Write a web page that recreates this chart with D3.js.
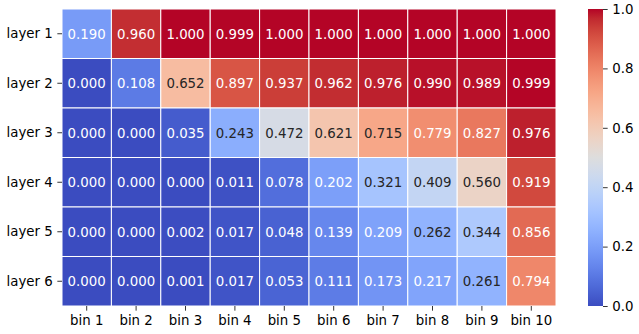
<!DOCTYPE html>
<meta charset="utf-8">
<script src="https://d3js.org/d3.v7.min.js"></script>
<style>
  body { margin: 0; background: #fff; }
  text { font-family: "DejaVu Sans", sans-serif; }
</style>
<div id="heatmap"></div>
<script>

// row and column labels
var layers = ["layer 1", "layer 2", "layer 3", "layer 4", "layer 5", "layer 6"];
var bins = ["bin 1", "bin 2", "bin 3", "bin 4", "bin 5", "bin 6", "bin 7", "bin 8", "bin 9", "bin 10"];

// values per layer
var layer1 = [0.190, 0.960, 1.000, 0.999, 1.000, 1.000, 1.000, 1.000, 1.000, 1.000];
var layer2 = [0.000, 0.108, 0.652, 0.897, 0.937, 0.962, 0.976, 0.990, 0.989, 0.999];
var layer3 = [0.000, 0.000, 0.035, 0.243, 0.472, 0.621, 0.715, 0.779, 0.827, 0.976];
var layer4 = [0.000, 0.000, 0.000, 0.011, 0.078, 0.202, 0.321, 0.409, 0.560, 0.919];
var layer5 = [0.000, 0.000, 0.002, 0.017, 0.048, 0.139, 0.209, 0.262, 0.344, 0.856];
var layer6 = [0.000, 0.000, 0.001, 0.017, 0.053, 0.111, 0.173, 0.217, 0.261, 0.794];

var colorbarTicks = [0.0, 0.2, 0.4, 0.6, 0.8, 1.0];

var rows = [layer1, layer2, layer3, layer4, layer5, layer6];
var cells = [];
rows.forEach(function(r, i) {
  r.forEach(function(v, j) {
    cells.push({layer: layers[i], bin: bins[j], value: v});
  });
});

// coolwarm colormap (33 control points)
var coolwarm = ["#3b4cc0","#445acc","#4d68d7","#5775e1","#6282ea","#6c8ef1","#779af7","#82a5fb",
  "#8db0fe","#98b9ff","#a3c2ff","#aec9fd","#b8d0f9","#c2d5f4","#ccd9ee","#d5dbe6","#dddddd",
  "#e5d8d1","#ecd3c5","#f1ccb8","#f5c4ac","#f7bb9f","#f7b193","#f7a686","#f49a7b","#f18d6f",
  "#ec7f63","#e57058","#de604d","#d55042","#cb3e38","#c0282f","#b40426"];
var color = d3.scaleLinear()
  .domain(coolwarm.map(function(c, i) { return i / (coolwarm.length - 1); }))
  .range(coolwarm)
  .interpolate(d3.interpolateRgb)
  .clamp(true);

function luminance(c) {
  var rgb = d3.rgb(c);
  var lin = [rgb.r, rgb.g, rgb.b].map(function(v) {
    v = v / 255;
    return v <= 0.03928 ? v / 12.92 : Math.pow((v + 0.055) / 1.055, 2.4);
  });
  return 0.2126 * lin[0] + 0.7152 * lin[1] + 0.0722 * lin[2];
}

var width = 639, height = 334;
var margin = {top: 9, left: 62, right: 83, bottom: 28};
var plotW = 556 - margin.left, plotH = 306 - margin.top;
var tick = 4.67;

var svg = d3.select("#heatmap")
  .append("svg")
    .attr("width", width)
    .attr("height", height);

var g = svg.append("g")
  .attr("transform", "translate(" + margin.left + "," + margin.top + ")");

var x = d3.scaleBand().domain(bins).range([0, plotW]);
var y = d3.scaleBand().domain(layers).range([0, plotH]);

g.selectAll("rect.cell")
  .data(cells)
  .enter()
  .append("rect")
    .attr("class", "cell")
    .attr("x", function(d) { return x(d.bin); })
    .attr("y", function(d) { return y(d.layer); })
    .attr("width", x.bandwidth())
    .attr("height", y.bandwidth())
    .attr("fill", function(d) { return color(d.value); })
    .attr("stroke", "white")
    .attr("stroke-width", 1);

g.selectAll("text.annot")
  .data(cells)
  .enter()
  .append("text")
    .attr("class", "annot")
    .attr("x", function(d) { return x(d.bin) + x.bandwidth() / 2; })
    .attr("y", function(d) { return y(d.layer) + y.bandwidth() / 2; })
    .attr("dy", "0.36em")
    .attr("text-anchor", "middle")
    .style("font-size", "13.33px")
    .attr("fill", function(d) { return luminance(color(d.value)) > 0.408 ? "#262626" : "#ffffff"; })
    .text(function(d) { return d.value.toFixed(3); });

// axes
var xAxis = g.append("g")
  .attr("transform", "translate(0," + plotH + ")")
  .call(d3.axisBottom(x).tickSize(tick).tickPadding(tick));
var yAxis = g.append("g")
  .call(d3.axisLeft(y).tickSize(tick).tickPadding(tick));
[xAxis, yAxis].forEach(function(a) {
  a.select(".domain").remove();
  a.selectAll("text").style("font-size", "13.33px").attr("fill", "#000").style("font-family", "DejaVu Sans, sans-serif");
  a.selectAll("line").attr("stroke", "#000").attr("stroke-width", 0.8);
});

// colorbar
var cbX = 588, cbW = 15;
var defs = svg.append("defs");
var grad = defs.append("linearGradient")
  .attr("id", "cbgrad")
  .attr("x1", "0").attr("y1", "1").attr("x2", "0").attr("y2", "0");
grad.selectAll("stop")
  .data(coolwarm)
  .enter()
  .append("stop")
    .attr("offset", function(c, i) { return (i / (coolwarm.length - 1) * 100) + "%"; })
    .attr("stop-color", function(c) { return c; });

var cy = d3.scaleLinear().domain([0, 1]).range([306, 9]);
svg.append("rect")
  .attr("x", cbX)
  .attr("y", cy(1))
  .attr("width", cbW)
  .attr("height", cy(0) - cy(1))
  .attr("fill", "url(#cbgrad)");

var cbAxis = svg.append("g")
  .attr("transform", "translate(" + (cbX + cbW) + ",0)")
  .call(d3.axisRight(cy).tickValues(colorbarTicks).tickFormat(d3.format(".1f")).tickSize(tick).tickPadding(tick));
cbAxis.select(".domain").remove();
cbAxis.selectAll("text").style("font-size", "13.33px").attr("fill", "#000").style("font-family", "DejaVu Sans, sans-serif");
cbAxis.selectAll("line").attr("stroke", "#000").attr("stroke-width", 0.8);

</script>
